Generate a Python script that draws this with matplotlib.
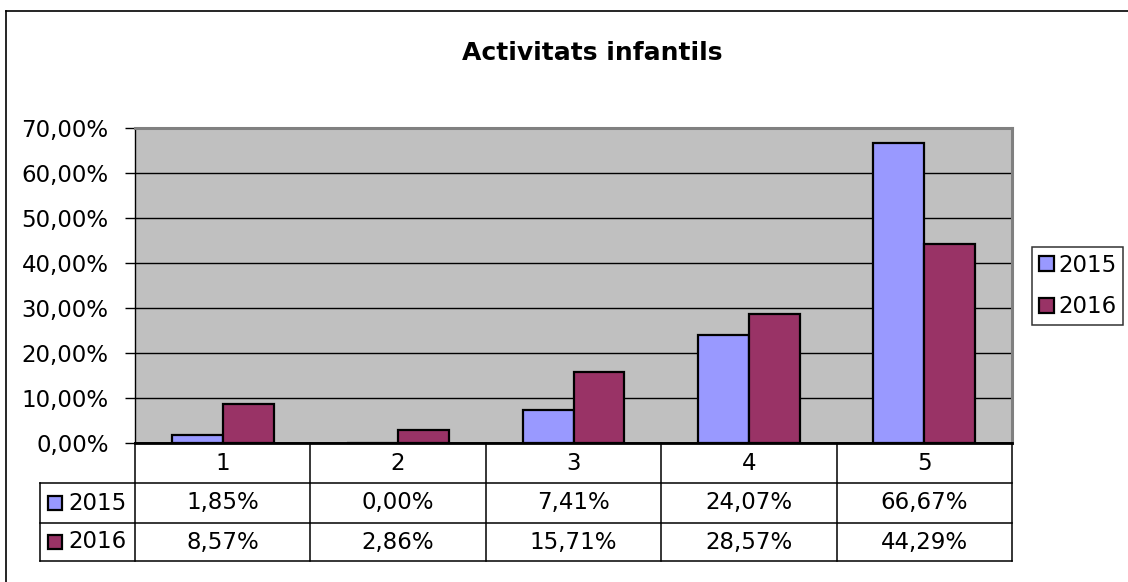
import matplotlib
matplotlib.use("Agg")
import matplotlib.pyplot as plt
from matplotlib.lines import Line2D
from matplotlib.patches import Rectangle
from matplotlib.ticker import FuncFormatter, MultipleLocator

plt.rcParams['font.family'] = 'DejaVu Sans'

# dades
categories = ['1', '2', '3', '4', '5']
series = ['2015', '2016']
vals_2015 = [1.85, 0.00, 7.41, 24.07, 66.67]
vals_2016 = [8.57, 2.86, 15.71, 28.57, 44.29]
colors = ['#9999FF', '#993366']
title = 'Activitats infantils'


def pct(v):
    return ('%.2f%%' % v).replace('.', ',')


W, H = 1128, 582
fig = plt.figure(figsize=(W / 100, H / 100), dpi=100)
fs = 16.5


def fx(px):
    return px / W


def fy(py):
    return 1 - py / H


# marc exterior
fig.add_artist(Line2D([fx(6), fx(6)], [fy(11), -0.1], color='black', lw=1.2, transform=fig.transFigure))
fig.add_artist(Line2D([fx(6), 1.1], [fy(11), fy(11)], color='black', lw=1.2, transform=fig.transFigure))

# area del grafic
L, R, T, B = 135, 1012, 128, 443
ax = fig.add_axes([fx(L), fy(B), fx(R - L), (B - T) / H])
ax.set_facecolor('#C0C0C0')
x = range(len(categories))
bw = 0.29
ax.bar([i - bw / 2 for i in x], vals_2015, bw, color=colors[0], edgecolor='black', linewidth=1.6, zorder=3, label=series[0])
ax.bar([i + bw / 2 for i in x], vals_2016, bw, color=colors[1], edgecolor='black', linewidth=1.6, zorder=3, label=series[1])
ax.set_xlim(-0.5, len(categories) - 0.5)
ax.set_ylim(0, 70)
ax.yaxis.set_major_locator(MultipleLocator(10))
ax.yaxis.set_major_formatter(FuncFormatter(lambda v, p: pct(v)))
ax.grid(axis='y', color='black', linewidth=1, zorder=1)
ax.set_xticks([])
ax.tick_params(axis='y', direction='out', length=7, width=1, pad=12, labelsize=fs)
for s in ['top', 'right']:
    ax.spines[s].set_color('#808080')
    ax.spines[s].set_linewidth(2.2)
ax.spines['left'].set_linewidth(1)
ax.spines['bottom'].set_linewidth(2)

fig.text(fx(592), fy(53), title, ha='center', va='center', fontsize=18, fontweight='bold')

# taula de dades
TL = 40
rows_y = [443, 483, 523, 561]
cw = (R - L) / len(categories)
tax = fig.add_axes([fx(TL), fy(rows_y[-1]), fx(R - TL), (rows_y[-1] - rows_y[0]) / H])
tax.set_xlim(-0.5 - (L - TL) / cw, len(categories) - 0.5)
tax.set_ylim(rows_y[-1], rows_y[0])
tax.axis('off')
x0 = tax.get_xlim()[0]
lk = dict(color='black', lw=1.1, solid_capstyle='projecting', clip_on=False)
tax.plot([-0.5, len(categories) - 0.5], [rows_y[0]] * 2, **lk)
for yy in rows_y[1:]:
    tax.plot([x0, len(categories) - 0.5], [yy, yy], **lk)
for k in range(len(categories) + 1):
    tax.plot([k - 0.5] * 2, [rows_y[0], rows_y[-1]], **lk)
tax.plot([x0, x0], [rows_y[1], rows_y[-1]], **lk)

for i, c in enumerate(categories):
    tax.text(i, (rows_y[0] + rows_y[1]) / 2, c, ha='center', va='center', fontsize=fs)
for r, (name, vals, col) in enumerate(zip(series, [vals_2015, vals_2016], colors)):
    yc = (rows_y[r + 1] + rows_y[r + 2]) / 2
    for i, v in enumerate(vals):
        tax.text(i, yc, pct(v), ha='center', va='center', fontsize=fs)
    tax.add_patch(Rectangle((x0 + 8 / cw, yc - 7), 14 / cw, 14,
                            facecolor=col, edgecolor='black', lw=1.6, clip_on=False))
    tax.text(x0 + 28 / cw, yc, name, ha='left', va='center', fontsize=fs)

# llegenda
leg = fig.legend(handles=[Rectangle((0, 0), 1, 1, facecolor=c, edgecolor='black', lw=1.6) for c in colors],
                 labels=series, loc='upper left', bbox_to_anchor=(fx(1032), fy(247)),
                 frameon=True, fancybox=False, edgecolor='black', fontsize=fs,
                 handlelength=0.65, handleheight=0.65, handletextpad=0.2,
                 borderpad=0.3, labelspacing=0.8, borderaxespad=0)
leg.get_frame().set_linewidth(1.1)

fig.savefig('out.png', dpi=100)
